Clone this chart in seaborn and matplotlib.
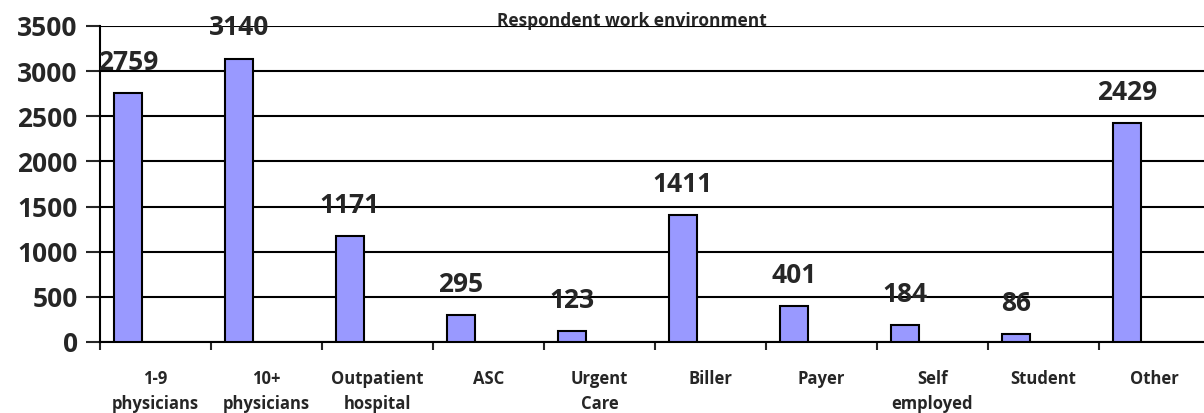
import matplotlib
matplotlib.use("Agg")
import matplotlib.pyplot as plt
import seaborn as sns
import pandas as pd
import numpy as np

# Respondent work environment counts
categories = ["1-9\nphysicians", "10+\nphysicians", "Outpatient\nhospital", "ASC",
              "Urgent\nCare", "Biller", "Payer", "Self\nemployed", "Student", "Other"]
counts = [2759, 3140, 1171, 295, 123, 1411, 401, 184, 86, 2429]
y_ticks = [0, 500, 1000, 1500, 2000, 2500, 3000, 3500]

df = pd.DataFrame({"environment": categories, "respondents": counts})

sns.set_style("white")
plt.rcParams["font.family"] = ["Open Sans", "DejaVu Sans"]

fig = plt.figure(figsize=(12.04, 4.13), dpi=100)
ax = fig.add_axes([100 / 1204, 71 / 413, 1110 / 1204, 316 / 413])

sns.barplot(data=df, x="environment", y="respondents", color="#9999FF",
            edgecolor="black", linewidth=1.5, width=0.25, saturation=1, ax=ax, zorder=3)

ax.set_xlim(-0.25, len(categories) - 0.25)
ax.set_ylim(0, 3500)
ax.set_yticks(y_ticks)
ax.set_yticklabels([str(t) for t in y_ticks], fontsize=19, fontweight="bold")
ax.yaxis.grid(True, color="black", linewidth=1.5, zorder=0)
ax.set_axisbelow(True)

# boundaries get the tick marks, labels sit at category centres
pos = np.arange(len(categories))
ax.set_xticks(np.append(pos - 0.25, len(categories) - 0.25))
ax.set_xticklabels([])
ax.set_xticks(pos + 0.25, minor=True)
ax.set_xticklabels(categories, minor=True, fontsize=12, fontweight="bold", linespacing=1.5)
ax.tick_params(axis="x", which="major", length=6, width=1.5, direction="out", bottom=True)
ax.tick_params(axis="x", which="minor", length=0, pad=20)
ax.tick_params(axis="y", length=10, width=1.5, direction="out", left=True, pad=6)

for side in ["top", "right"]:
    ax.spines[side].set_visible(False)
for side in ["left", "bottom"]:
    ax.spines[side].set_color("black")
    ax.spines[side].set_linewidth(1.5)

ax.set_xlabel("")
ax.set_ylabel("")

for i, v in enumerate(counts):
    ax.annotate(str(v), (i, v), xytext=(0, 22), textcoords="offset points",
                ha="center", va="center", fontsize=19, fontweight="bold", zorder=5)

fig.text(632 / 1204, 1 - 21 / 413, "Respondent work environment",
         ha="center", va="center", fontsize=12.5, fontweight="bold")

fig.savefig("out.png", dpi=100)
